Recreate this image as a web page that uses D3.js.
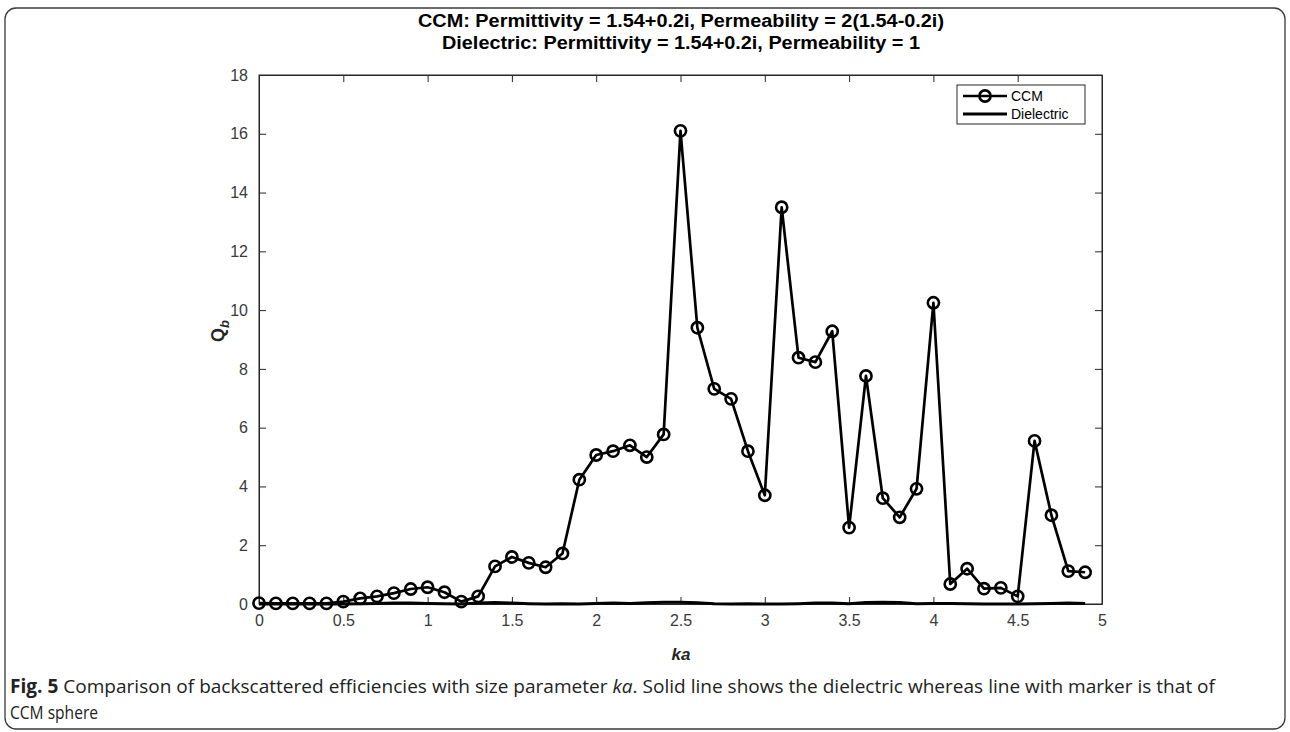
<!DOCTYPE html>
<html>
<head>
<meta charset="utf-8">
<script src="https://cdn.jsdelivr.net/npm/d3@7"></script>
<style>
  html, body { margin: 0; padding: 0; background: #fff; }
  svg { display: block; }
</style>
</head>
<body>
<svg id="chart" width="1290" height="732"></svg>
<script>
// ---- data ----
const ka = [0,0.1,0.2,0.3,0.4,0.5,0.6,0.7,0.8,0.9,1.0,1.1,1.2,1.3,1.4,1.5,1.6,1.7,1.8,1.9,
            2.0,2.1,2.2,2.3,2.4,2.5,2.6,2.7,2.8,2.9,3.0,3.1,3.2,3.3,3.4,3.5,3.6,3.7,3.8,3.9,
            4.0,4.1,4.2,4.3,4.4,4.5,4.6,4.7,4.8,4.9];
const ccm = [0.03,0.02,0.02,0.02,0.02,0.08,0.19,0.26,0.37,0.51,0.57,0.40,0.08,0.26,1.28,1.60,1.40,1.25,1.72,4.23,
             5.07,5.20,5.40,5.00,5.77,16.10,9.40,7.32,6.98,5.20,3.70,13.50,8.38,8.23,9.28,2.60,7.76,3.60,2.95,3.92,
             10.25,0.68,1.20,0.52,0.55,0.26,5.55,3.02,1.12,1.08];
const dielectric = [0,0,0,0,0,0,0.01,0.02,0.03,0.03,0.02,0.01,0,0.03,0.05,0.03,0.01,0,0.01,0,
                    0.02,0.03,0.02,0.04,0.06,0.06,0.04,0.01,0,0.01,0,0,0.01,0.03,0.03,0.01,0.05,0.06,0.05,0.01,
                    0.02,0.02,0.01,0,0,0,0.01,0.02,0.03,0.02];
const xTicks = [0,0.5,1,1.5,2,2.5,3,3.5,4,4.5,5];
const yTicks = [0,2,4,6,8,10,12,14,16,18];
const titleLines = ["CCM: Permittivity = 1.54+0.2i, Permeability = 2(1.54-0.2i)",
                    "Dielectric: Permittivity = 1.54+0.2i, Permeability = 1"];
const seriesNames = ["CCM", "Dielectric"];

// ---- layout ----
const svg = d3.select("#chart");
const L = 259, R = 1102, T = 75, B = 604;
const x = d3.scaleLinear().domain([0,5]).range([L,R]);
const y = d3.scaleLinear().domain([0,18]).range([B,T]);
const axisColor = "#262626";
const fontAx = "'Liberation Sans', Arial, Helvetica, sans-serif";

// frame
svg.append("rect").attr("x",5).attr("y",8).attr("width",1280).attr("height",721)
   .attr("rx",11).attr("fill","none").attr("stroke","#3a3a3a").attr("stroke-width",1.3);

// titles
const titleW = [526, 478];
titleLines.forEach((t,i)=>{
  svg.append("text").attr("x",681).attr("y",27 + i*22)
    .attr("text-anchor","middle").attr("font-family",fontAx).attr("font-weight","bold")
    .attr("font-size",18).attr("fill","#000")
    .attr("textLength",titleW[i]).attr("lengthAdjust","spacingAndGlyphs")
    .text(t);
});

// axes box
const g = svg.append("g");
g.append("rect").attr("x",L).attr("y",T).attr("width",R-L).attr("height",B-T)
  .attr("fill","#fff").attr("stroke",axisColor).attr("stroke-width",1);

// axes with inward ticks
const ax = g.append("g").attr("transform",`translate(0,${B})`)
  .call(d3.axisBottom(x).tickValues(xTicks).tickFormat(d3.format("~g")).tickSizeInner(-7).tickSizeOuter(0).tickPadding(11));
const axTop = g.append("g").attr("transform",`translate(0,${T})`)
  .call(d3.axisTop(x).tickValues(xTicks).tickFormat("").tickSizeInner(-7).tickSizeOuter(0));
const ay = g.append("g").attr("transform",`translate(${L},0)`)
  .call(d3.axisLeft(y).tickValues(yTicks).tickFormat(d3.format("d")).tickSizeInner(-7).tickSizeOuter(0).tickPadding(11));
const ayR = g.append("g").attr("transform",`translate(${R},0)`)
  .call(d3.axisRight(y).tickValues(yTicks).tickFormat("").tickSizeInner(-7).tickSizeOuter(0));
[ax,axTop,ay,ayR].forEach(a=>{
  a.attr("font-size",16).attr("font-family",fontAx);
  a.select(".domain").attr("stroke",axisColor);
  a.selectAll(".tick line").attr("stroke",axisColor);
  a.selectAll("text").attr("font-family",fontAx).attr("font-size",16).attr("fill","#3a3a3a");
});

// lines
const line = d3.line().x((d,i)=>x(ka[i])).y(d=>y(d));
g.append("path").datum(dielectric).attr("d",line).attr("fill","none")
  .attr("stroke","#000").attr("stroke-width",3);
g.append("path").datum(ccm).attr("d",line).attr("fill","none")
  .attr("stroke","#000").attr("stroke-width",2.7).attr("stroke-linejoin","round");
g.selectAll("circle.m").data(ccm).enter().append("circle").attr("class","m")
  .attr("cx",(d,i)=>x(ka[i])).attr("cy",d=>y(d)).attr("r",5.6)
  .attr("fill","none").attr("stroke","#000").attr("stroke-width",2.6);

// axis labels
svg.append("text").attr("x",681).attr("y",660).attr("text-anchor","middle")
  .attr("font-family",fontAx).attr("font-weight","bold").attr("font-style","italic")
  .attr("font-size",17).attr("fill","#262626").text("ka");
const yl = svg.append("text").attr("transform","translate(224,331) rotate(-90)")
  .attr("text-anchor","middle").attr("font-family",fontAx).attr("font-weight","bold")
  .attr("font-size",18).attr("fill","#262626");
yl.append("tspan").text("Q");
yl.append("tspan").attr("font-style","italic").attr("font-size",13).attr("dy",5).text("b");

// legend
const lg = svg.append("g");
const lx = 957, ly = 85, lw = 128, lh = 39;
lg.append("rect").attr("x",lx).attr("y",ly).attr("width",lw).attr("height",lh)
  .attr("fill","#fff").attr("stroke",axisColor).attr("stroke-width",1);
seriesNames.forEach((s,i)=>{
  const yy = ly + 11 + i*18;
  lg.append("line").attr("x1",lx+6).attr("x2",lx+50).attr("y1",yy).attr("y2",yy)
    .attr("stroke","#000").attr("stroke-width",i===0?2.7:3);
  if(i===0) lg.append("circle").attr("cx",lx+28).attr("cy",yy).attr("r",5.6)
    .attr("fill","none").attr("stroke","#000").attr("stroke-width",2.6);
  lg.append("text").attr("x",lx+54).attr("y",yy+5).attr("font-family",fontAx)
    .attr("font-size",14).attr("fill","#000").text(s);
});

// caption
const capFont = "'Open Sans', 'Liberation Sans', sans-serif";
const c1 = svg.append("text").attr("x",10).attr("y",693).attr("font-family",capFont)
  .attr("font-size",19).attr("fill","#222")
  .attr("textLength",1205).attr("lengthAdjust","spacingAndGlyphs");
c1.append("tspan").attr("font-weight","bold").text("Fig. 5");
c1.append("tspan").text(" Comparison of backscattered efficiencies with size parameter ");
c1.append("tspan").attr("font-style","italic").text("ka");
c1.append("tspan").text(". Solid line shows the dielectric whereas line with marker is that of");
svg.append("text").attr("x",10).attr("y",719).attr("font-family",capFont)
  .attr("font-size",19).attr("fill","#222")
  .attr("textLength",88).attr("lengthAdjust","spacingAndGlyphs").text("CCM sphere");
</script>
</body>
</html>
